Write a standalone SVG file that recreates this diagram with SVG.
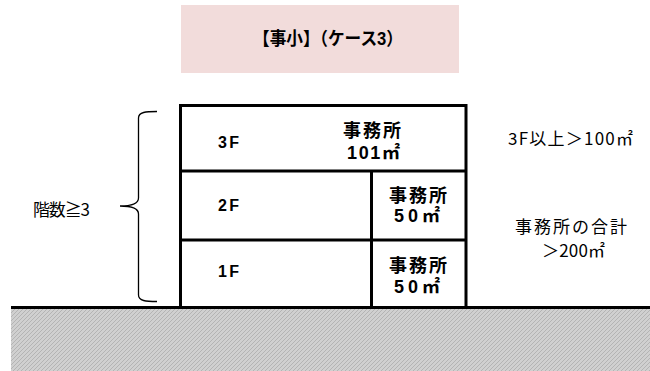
<svg xmlns="http://www.w3.org/2000/svg" width="650" height="371" viewBox="0 0 650 371">
<defs>
<pattern id="hatch" width="4" height="4" patternUnits="userSpaceOnUse">
<rect width="4" height="4" fill="#d0d0d0"/>
<path d="M0 4L4 0M-1 1L1 -1M3 5L5 3" stroke="#b4b4b4" stroke-width="1"/>
</pattern>
<style>
.wall{fill:none;stroke:#000;stroke-width:3}
.brace{fill:none;stroke:#000;stroke-width:1.3}
.b{font-family:"Liberation Sans","Noto Sans CJK JP",sans-serif;font-weight:bold;font-size:18px;fill:#000}
.f{font-size:16px}
.n{font-family:"Noto Sans CJK JP","Noto Sans",sans-serif;font-size:17px;fill:#000}
</style>
</defs>
<rect x="11" y="308" width="639" height="63" fill="url(#hatch)"/>
<g id="title">
<rect x="181" y="5" width="278" height="68" fill="#f2dcdb"/>
<text class="b" x="253" y="45" font-size="17.5" textLength="150" lengthAdjust="spacingAndGlyphs">【事小】（ケース3）</text>
</g>
<g id="building">
<path class="wall" d="M180.5 307V105.5H466V307M180.5 171H466M180.5 240H466M371.5 171V307"/>
</g>
<g id="ground">
<line x1="11" y1="307.5" x2="650" y2="307.5" stroke="#000" stroke-width="3"/>
</g>
<g id="floor3">
<text class="b f" x="218" y="148" textLength="21">3F</text>
<text class="b" x="343" y="137" textLength="58">事務所</text>
<text class="b" x="347" y="159" textLength="53">101㎡</text>
</g>
<g id="floor2">
<text class="b f" x="218" y="211" textLength="21">2F</text>
<text class="b" x="389" y="202" textLength="58">事務所</text>
<text class="b" x="394" y="222" textLength="46">50㎡</text>
</g>
<g id="floor1">
<text class="b f" x="218" y="277" textLength="21">1F</text>
<text class="b" x="389" y="272" textLength="58">事務所</text>
<text class="b" x="394" y="293" textLength="46">50㎡</text>
</g>
<g id="brace">
<path class="brace" d="M157 111.5C146 111.5 138.5 112 138.5 118V198C138.5 203 132 206 120 206C132 206 138.5 209 138.5 214V295C138.5 301 146 301.5 157 301.5"/>
<text class="n" x="33" y="216" font-size="16" textLength="57">階数≧3</text>
</g>
<g id="notes">
<text class="n" x="508" y="145" textLength="125">3F以上＞100㎡</text>
<text class="n" x="515" y="233" font-size="16" textLength="112">事務所の合計</text>
<text class="n" x="542" y="257" font-size="16" textLength="63">＞200㎡</text>
</g>
</svg>
